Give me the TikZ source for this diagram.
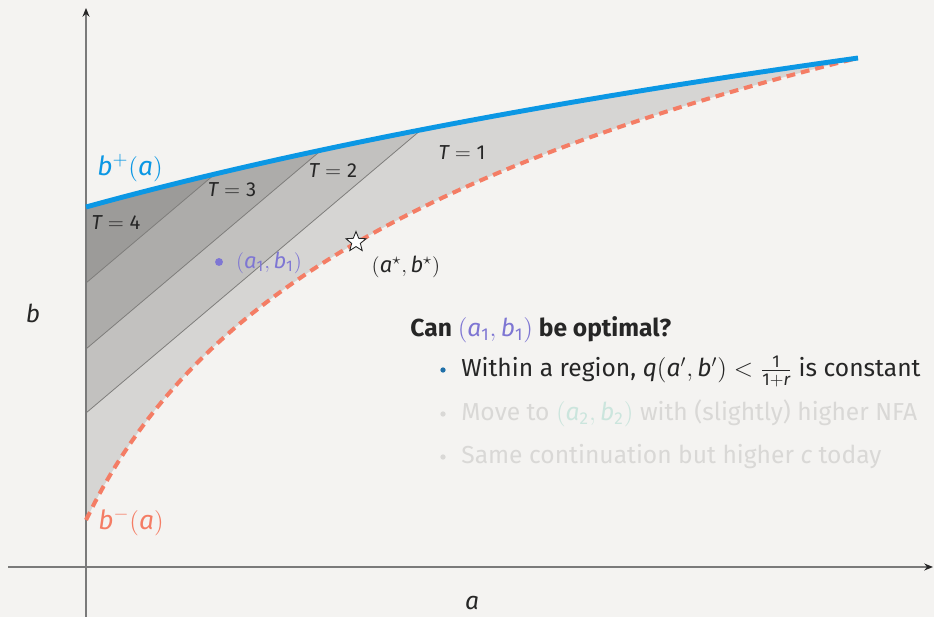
\documentclass[tikz,border=0pt]{standalone}
\usepackage{amsmath}
\usepackage{fontspec}
\setmainfont{Fira Sans}
\usetikzlibrary{arrows.meta,shapes.geometric}
\definecolor{bgcol}{HTML}{F4F3F1}
\definecolor{bplus}{HTML}{0B97E4}
\definecolor{bminus}{HTML}{F47D65}
\definecolor{ptpurple}{HTML}{7E76D3}
\definecolor{bulletblue}{HTML}{1F6FA8}
\definecolor{textdark}{HTML}{262626}
\definecolor{fadegray}{HTML}{D9D8D6}
\definecolor{fademint}{HTML}{CBE5DD}
\definecolor{axisgray}{HTML}{7A7A7A}
\definecolor{linegray}{HTML}{7E7D7B}
\definecolor{tone1}{HTML}{D6D5D3}
\definecolor{tone2}{HTML}{C2C1BF}
\definecolor{tone3}{HTML}{ADACAA}
\definecolor{tone4}{HTML}{9C9B99}
\newcommand{\va}{\mathit{a}}
\newcommand{\vb}{\mathit{b}}
\newcommand{\dg}[1]{\text{\normalfont #1}}

\begin{document}
\begin{tikzpicture}[
  x=0.02cm, y=-0.02cm,
  declare function={yup(\t)=207-220.6*ln(1+\t/800); ylo(\t)=520-217.7*ln(1+\t/105);},
  axis/.style={draw=axisgray, line width=0.8pt, -{Stealth[length=5pt,width=4pt,color=black!85]}},
  band/.style={draw=linegray, line width=0.45pt},
  upper/.style={draw=bplus, line width=2.8pt},
  lower/.style={draw=bminus, line width=2.3pt, dash pattern=on 5pt off 3.4pt},
  tlab/.style={font=\fontsize{11.5}{13}\selectfont, text=textdark},
  curvelab/.style={font=\fontsize{15}{18}\selectfont},
  axlab/.style={font=\fontsize{14}{17}\selectfont, text=textdark},
  txt/.style={anchor=base west, inner sep=0pt, font=\fontsize{14}{17}\selectfont, text=textdark},
  faded/.style={txt, text=fadegray},
  bulletdot/.style={circle, fill=#1, inner sep=0pt, minimum size=3pt}
]
  \fill[bgcol] (0,0) rectangle (934,617);
  \useasboundingbox (0,0) rectangle (934,617);

  \begin{scope}
    \clip plot[domain=0:772, samples=90] ({86+\x},{yup(\x)})
      -- plot[domain=772:0, samples=90] ({86+\x},{ylo(\x)}) -- cycle;
    \fill[tone1] (0,0) rectangle (934,617);
    \foreach \c/\t in {413/tone2,349/tone3,283/tone4}
      \fill[\t] (86,\c) -- ++(700,-591.5) -- (86,-300) -- cycle;
    \foreach \c in {413,349,283}
      \draw[band] (86,\c) -- ++(700,-591.5);
  \end{scope}

  \coordinate (ybot) at (86,617);
  \coordinate (ytop) at (86,8);
  \coordinate (xleft) at (8,567);
  \coordinate (xright) at (933,567);
  \draw[axis] (ybot) -- (ytop);
  \draw[axis] (xleft) -- (xright);

  \draw[lower] plot[domain=0:772, samples=90] ({86+\x},{ylo(\x)});
  \draw[upper] plot[domain=0:772, samples=90] ({86+\x},{yup(\x)});

  \node[tlab] (t4) at (116,223) {$\mathit{T} = \dg{4}$};
  \node[tlab] (t3) at (232,190) {$\mathit{T} = \dg{3}$};
  \node[tlab] (t2) at (333,171) {$\mathit{T} = \dg{2}$};
  \node[tlab] (t1) at (462,153) {$\mathit{T} = \dg{1}$};

  \node[curvelab, text=bplus] (bup) at (130,168) {$\vb^{+}(\va)$};
  \node[curvelab, text=bminus] (blo) at (131,522) {$\vb^{-}(\va)$};
  \node[axlab] (blab) at (33,313) {$\vb$};
  \node[axlab] (alab) at (472,603) {$\va$};

  \node[circle, fill=ptpurple, inner sep=0pt, minimum size=4.5pt] (p1) at (219,262) {};
  \node[tlab, font=\fontsize{12.5}{14}\selectfont, text=ptpurple] (p1lab) at (269,263) {$(\va_{\dg{1}}, \vb_{\dg{1}})$};
  \node[star, star points=5, star point ratio=2.3, draw=black!85, fill=white,
        line width=0.5pt, minimum size=12pt, inner sep=0pt] (opt) at (356,242) {};
  \node[tlab, font=\fontsize{12.5}{14}\selectfont] (optlab) at (406,267) {$(\va^{\star}, \vb^{\star})$};

  \node[txt] (q) at (410,337) {\bfseries Can \textcolor{ptpurple}{$(\va_{\dg{1}}, \vb_{\dg{1}})$} be optimal?};
  \foreach \y/\c [count=\i] in {370/bulletblue,414/fadegray,457/fadegray}
    \node[bulletdot=\c] (dot\i) at (443,\y) {};
  \node[txt] (i1) at (461,377) {Within a region, $\mathit{q}(\va', \vb') < \frac{\dg{1}}{\dg{1}+\mathit{r}}$ is constant};
  \node[faded] (i2) at (461,421) {Move to \textcolor{fademint}{$(\va_{\dg{2}}, \vb_{\dg{2}})$} with (slightly) higher NFA};
  \node[faded] (i3) at (461,464) {Same continuation but higher $\mathit{c}$ today};
\end{tikzpicture}
\end{document}
